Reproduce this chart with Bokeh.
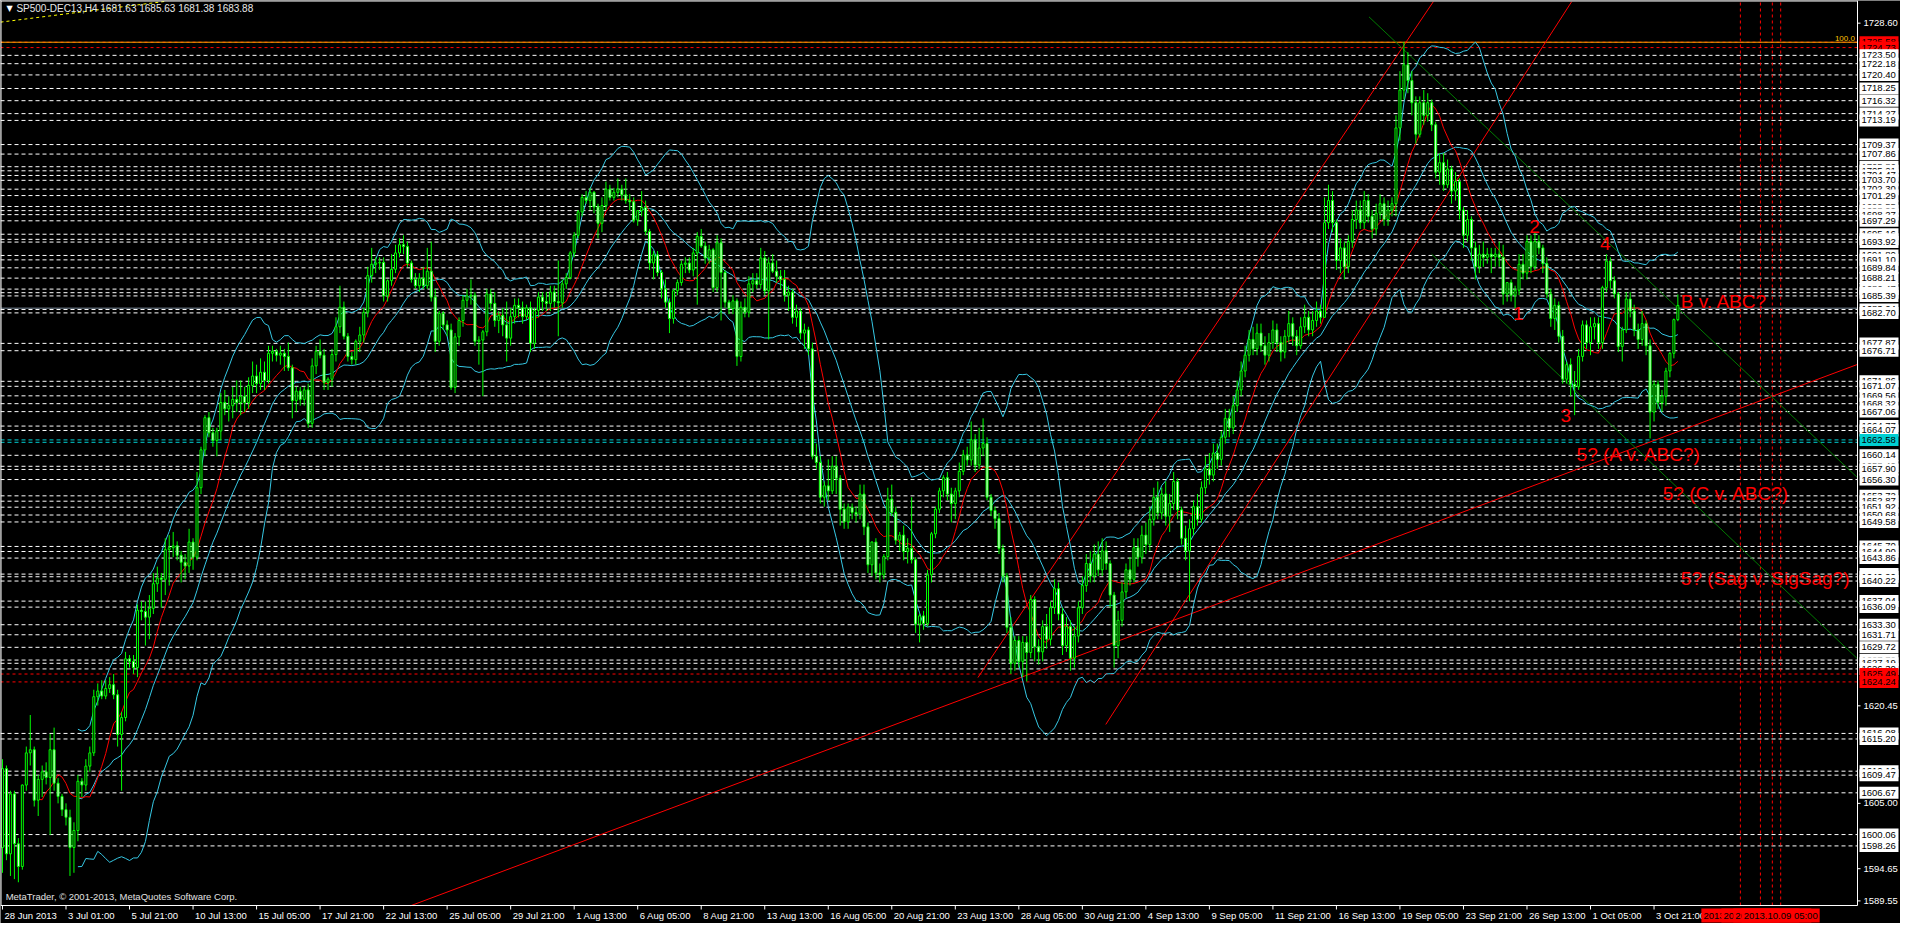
import pandas as pd
from bokeh.plotting import figure
from bokeh.models import Range1d, ColumnDataSource
from bokeh.core.properties import value
from bokeh.embed import file_html
from bokeh.resources import INLINE

# ---------------- data ----------------
FIRST_OPEN = 1598.0
CLOSE = [
 1610.5,1597,1606.5,1598.6,1595,1607.9,1613,1613.5,1605.5,1608.8,1610,1609.1,1613.5,1608.2,1606.1,1604,1602.8,1598,1600.7,1608.5,
 1607.9,1610.9,1613,1621.9,1622.8,1622,1623.2,1623.8,1622.2,1615.9,1618.6,1627.9,1627.5,1626.5,1635.6,1635.4,1634.5,1635.9,1639.8,1640.7,
 1640.5,1645.2,1645.5,1645.8,1644.3,1643.2,1642.6,1646.4,1644,1655,1661,1666.1,1663.7,1662.5,1664,1668.5,1667.5,1668,1669,1668.5,
 1669.5,1668.5,1671.2,1672.7,1671.5,1673.3,1672,1676.3,1676.6,1676,1676.3,1675.8,1674,1668.8,1670.3,1669,1670.5,1665.2,1674.3,1676.6,
 1676,1671.7,1672.2,1676.1,1680.5,1683.6,1679,1675.8,1675.3,1678.2,1679.2,1682.8,1688.6,1690.4,1690.6,1690.7,1685.4,1687.8,1689.6,1692.2,
 1693.5,1693.2,1690.6,1688,1687,1688.2,1687,1689.3,1685.2,1678.2,1682.6,1680.8,1680,1670.9,1678.9,1681.5,1684.7,1685.4,1685.5,1678.2,
 1678.4,1679.7,1685.7,1684.2,1681.5,1682.3,1680.8,1678.7,1682.1,1683.9,1683.5,1682.1,1683.5,1677.9,1683.1,1685.2,1684.5,1684.2,1686,1684.5,
 1684.3,1687.3,1688.3,1692.2,1695,1698.7,1701,1700.5,1701.8,1699.5,1696.9,1699.7,1702.3,1701,1701.8,1702.3,1701.4,1700.5,1700.3,1697.4,
 1698.9,1699.4,1695.6,1690.6,1691.9,1689.1,1686.5,1684.4,1681.8,1686.2,1687.5,1690.4,1690.6,1689.5,1692.2,1694.8,1693.3,1691.4,1692.7,1686.7,
 1693.8,1689.1,1684.4,1683.4,1684.6,1675.8,1683.6,1682.8,1687.3,1687.8,1687.2,1691.4,1686.2,1690.6,1689.3,1688.5,1688,1685.5,1686,1682,
 1683,1679.5,1680,1677,1660,1659,1653.5,1655.3,1654.5,1658.4,1656.5,1651.6,1649.6,1651.9,1651.1,1650.8,1654,1648.8,1642.8,1646.4,
 1641.5,1641.2,1644.1,1653.2,1651.1,1646.7,1647.5,1644.9,1645.4,1643.6,1633.4,1634.7,1633.5,1641.2,1647.7,1651.6,1654.5,1656.6,1654,1652.5,
 1654.5,1657.6,1660.2,1659.4,1662.6,1658.6,1661.3,1662,1653.5,1651.4,1650.1,1645.4,1641,1632.9,1627.2,1630.8,1627.5,1630.5,1628.9,1637.3,
 1629.8,1629,1633,1631,1636,1639,1635,1630,1633,1628,1631.5,1636,1639.5,1643,1641,1644.5,1642,1645,1643,1638,
 1630,1634,1638.5,1642,1640.5,1645.5,1644,1647.5,1646,1650,1653.5,1651,1654,1650.5,1652.5,1656,1651.5,1647,1645,1648.5,
 1652,1650,1655,1658,1657,1660.5,1659.5,1663,1666,1664.5,1668,1670.5,1673.5,1676,1678.5,1677,1679.5,1677.5,1676,1678,
 1680,1678,1676.5,1679,1681,1679,1677.5,1680.5,1682,1680,1681.5,1683,1682,1697,1700.5,1697,1691,1693,1690,1694,
 1697.5,1699,1697,1700.5,1698,1696,1698.5,1700,1697.5,1699,1700,1712,1718,1722,1719.5,1716,1711,1716,1714,1716,
 1712.5,1705,1706.5,1703,1705.5,1702,1703.5,1699,1695,1697.5,1693,1690,1692,1691.5,1692,1691.6,1692,1691.5,1685.7,1687.5,
 1685.5,1686.3,1690.4,1689,1694,1690,1694,1693,1690.5,1685.7,1681.8,1683.9,1679,1672.2,1674.5,1671.4,1671,1675.8,1680.8,1678,
 1680.5,1681,1678,1686.7,1690.9,1687.8,1685.7,1677.4,1680,1684.9,1683,1680,1678.5,1681,1677.5,1667,1671.4,1668.5,1669.5,1673.5,
 1676.3,1681.63,1683.88]
HIGH = [
 1612,1611,1607,1607,1599.5,1608,1614,1619,1614,1609.5,1611,1611.5,1616,1617,1609,1606.5,1605,1604,1602,1609.5,
 1609,1612,1614,1623,1624,1624.5,1624.5,1625,1625.5,1623,1619.5,1629,1628.5,1628.5,1636.5,1637,1637,1638,1641.5,1642.5,
 1641.5,1647,1647.5,1648,1646.5,1645,1644.5,1648.5,1647,1657.5,1661.5,1666.5,1667,1664.5,1664.5,1670,1670.5,1669.5,1671,1672,
 1672,1671,1672.5,1675,1674.5,1675.5,1675,1677.5,1677.5,1677,1677.5,1677,1678,1674.5,1671,1671,1671,1671.5,1675.5,1677.5,
 1678.5,1677,1672.5,1677,1682,1687,1684.5,1679.5,1676.5,1678.5,1680.5,1683.5,1690,1693,1691.5,1691.5,1691.5,1688,1692,1693.5,
 1694.5,1695,1694,1691,1689,1689,1690,1693,1694,1686.5,1683,1683,1681.5,1681,1679.5,1682,1685.5,1686.5,1688,1686,
 1679,1680,1686.5,1686.5,1686,1683,1683.5,1684.5,1683.5,1685,1685,1684.5,1684,1684.5,1683.5,1686,1686,1686,1687,1687,
 1691,1688,1689,1692.5,1695.5,1699,1701.5,1702,1702.5,1702,1700,1701,1703.5,1703,1702.5,1704,1703,1704,1701.5,1701,
 1699,1702,1700.5,1696,1692.5,1692.5,1689.5,1688,1685,1686.5,1688,1691,1691.5,1691.5,1693,1695.5,1696,1694,1693.5,1693,
 1695,1694.5,1689.5,1684.8,1685.5,1685,1684.5,1685,1688.5,1689,1689,1693,1692.5,1691.5,1692,1691,1689.5,1689.5,1687,1686.5,
 1684,1683.5,1681,1680.5,1678,1662,1660,1656,1659.5,1660,1660,1657,1652.5,1652.5,1652.5,1652,1655.5,1655.5,1649.5,1646.5,
 1647,1643,1644.5,1655,1655.5,1652,1648,1649,1647,1653.5,1644,1635,1635.5,1642,1648,1652,1655,1657,1657.5,1655,
 1655,1659,1661,1661.5,1665.5,1663.5,1664.5,1666,1663,1654,1652,1651,1646,1641.5,1634.5,1631.5,1631.5,1631.5,1631.5,1638,
 1637.8,1631,1634,1635,1637,1640.5,1640,1636,1634.5,1634,1633,1637,1641,1644.5,1645,1646,1646.5,1647,1646.5,1643.5,
 1638.5,1635.5,1640,1643,1644,1647,1647,1649,1649.5,1652,1655,1656,1655,1656,1654,1657.5,1656.5,1652,1649,1650,
 1653,1654,1656,1660,1660.5,1662,1662,1664,1667.5,1667.5,1669.5,1672,1675,1677.5,1680,1680.5,1681,1681,1679,1679.5,
 1681.5,1681,1679,1680,1683,1682,1680,1682,1684,1683,1683,1684.5,1684,1701,1703,1702,1697.5,1694.5,1694,1695,
 1699,1700.5,1700.5,1702,1701.5,1699,1700,1701.5,1701,1700.5,1701,1714,1721,1725.6,1724,1721,1717,1717,1718,1717.5,
 1716.5,1713,1708,1708,1707,1706,1705,1704,1699.5,1699,1698,1694,1693.5,1694,1693,1693,1693,1694,1693.5,1687.5,
 1688,1687,1692,1692,1695,1695,1695.5,1695,1693.5,1691.5,1686.5,1685,1684.5,1680,1675,1675.5,1673.5,1677,1681.5,1681.5,
 1682,1682,1682,1687,1692,1691.5,1688.5,1686,1680.5,1686,1686,1684,1681,1683,1681.5,1678.5,1672,1672,1670.5,1674,
 1676.5,1681.8,1685.63]
LOW = [
 1594,1596,1593.5,1593,1592.5,1594.5,1607,1611,1604.5,1603,1606,1608,1600,1607,1605,1603,1601.5,1593.5,1594,1599,
 1606,1607,1610,1612.5,1620.5,1621.5,1621.5,1622.5,1621.5,1614,1607,1618,1626.5,1625.5,1625,1634,1630,1631,1635,1638.5,
 1636,1638,1639.5,1644,1643.5,1640,1640.5,1641.5,1642,1643.5,1654,1660,1663,1661.5,1660,1662.5,1666.5,1665.5,1666,1667,
 1666.5,1667,1667.5,1670,1670,1670.5,1670.5,1671.5,1675,1675,1674.5,1673.5,1673.5,1666,1667,1668,1668,1664.5,1664.5,1673,
 1675.5,1670.5,1670.5,1671,1675,1679.5,1678.5,1675,1674.5,1674.5,1676.5,1678,1682,1687.5,1689,1689.5,1684.5,1684.5,1687,1689,
 1691.5,1692,1690,1687.5,1686.5,1686,1686.5,1686.5,1684.5,1676.5,1677.5,1680,1679,1670.5,1670,1677.5,1680.5,1683.5,1684,1677.5,
 1674.5,1669.5,1679,1683,1680.5,1679.5,1679,1675,1677.5,1681,1682,1681,1681.5,1676.5,1677,1682,1683,1683,1683,1683.5,
 1679,1683.5,1686.5,1688,1691.5,1694.5,1698,1700,1699,1698.5,1694.5,1695.5,1699,1700.5,1700.5,1701,1700.5,1700,1699,1697,
 1696.5,1698,1695,1689.5,1688,1688.5,1685,1683.5,1679.5,1681,1685.5,1687,1689,1689,1688.5,1684,1693,1690.5,1690.5,1686,
 1686,1681.5,1683.5,1682.5,1682.5,1674.3,1675,1682,1682,1686,1686.5,1686.5,1685.5,1678.5,1689,1687.5,1686.5,1684.5,1683,1681,
 1680.5,1678.5,1677,1676,1659.5,1658,1652.5,1652,1653,1654,1654,1649,1648.5,1648.5,1650,1649.5,1650,1647.5,1641.5,1641,
 1640.5,1640,1640.5,1643.5,1650.5,1646,1645,1643.5,1643,1643,1632,1630.5,1632.5,1633,1640,1647,1651,1653.5,1653,1649.5,
 1650,1653.5,1657,1658.5,1658.5,1657.5,1658,1660,1653,1650.5,1648.5,1644.5,1640,1632,1625.5,1626,1626.5,1625,1624.3,1628,
 1627.5,1627,1627.5,1629.5,1630,1635,1634,1628.5,1629,1626,1626.5,1630.5,1635,1638.5,1640,1640,1641,1641,1642,1636,
 1626.5,1628,1633,1637.5,1639.5,1640,1642.5,1643,1644.5,1645,1649,1650,1650,1649,1648,1651.5,1650,1646,1643.5,1637,
 1647.5,1649,1649.5,1654,1655.5,1656,1658,1658.5,1662,1663,1663.5,1667,1669.5,1672.5,1675,1676,1676,1676.5,1674.5,1675,
 1677,1676.5,1675,1675.5,1678,1677.5,1676,1677,1679.5,1679,1679,1680.5,1681,1682.5,1696,1695.5,1689.5,1689,1688,1689,
 1693,1696,1696,1696,1697,1694.5,1695,1697.5,1696.5,1696.5,1698,1698,1710,1716.5,1717.5,1714,1709.5,1710.5,1712.5,1713,
 1711.5,1704,1703,1702,1702.5,1700,1700.5,1697.5,1693,1694,1691,1688,1689,1690,1690.5,1689,1690,1690,1684,1684.5,
 1684.5,1683.5,1685.5,1688,1688,1689,1689.5,1692,1689,1685,1680.5,1680,1678,1671.5,1671.5,1669.5,1666.5,1670.5,1675,1677,
 1676,1678.5,1677,1677,1686,1686.5,1685,1676.5,1675,1679.5,1682,1679,1677,1677.5,1676,1662.8,1665.5,1667.5,1667,1668,
 1672.5,1675.5,1681.38]
OPEN = [FIRST_OPEN] + CLOSE[:-1]

TICK_BARS = [0, 16, 32, 48, 64, 80, 96, 112, 128, 144, 160, 176, 192, 208, 224, 240, 256,
             272, 288, 304, 320, 336, 352, 368, 384, 400, 416]
TIME_LABELS = ["28 Jun 2013", "3 Jul 01:00", "5 Jul 21:00", "10 Jul 13:00", "15 Jul 05:00",
               "17 Jul 21:00", "22 Jul 13:00", "25 Jul 05:00", "29 Jul 21:00", "1 Aug 13:00",
               "6 Aug 05:00", "8 Aug 21:00", "13 Aug 13:00", "16 Aug 05:00", "20 Aug 21:00",
               "23 Aug 13:00", "28 Aug 05:00", "30 Aug 21:00", "4 Sep 13:00", "9 Sep 05:00",
               "11 Sep 21:00", "16 Sep 13:00", "19 Sep 05:00", "23 Sep 21:00", "26 Sep 13:00",
               "1 Oct 05:00", "3 Oct 21:00"]
AXIS_PRICES = [1589.55, 1594.65, 1605.00, 1620.45, 1728.60]

WHITE_LEVELS = [1723.50, 1722.18, 1720.40, 1718.25, 1716.32, 1714.27, 1713.19, 1709.37, 1707.86,
                1705.86, 1705.21, 1704.47, 1703.70, 1702.30, 1701.29, 1699.55, 1698.90, 1698.27,
                1697.29, 1695.16, 1694.35, 1693.92, 1691.80, 1691.10, 1689.84, 1688.21, 1686.47,
                1685.90, 1685.39, 1683.24, 1682.70, 1677.87, 1676.71, 1671.86, 1671.07, 1669.56,
                1668.32, 1667.06, 1664.77, 1664.07, 1660.14, 1658.40, 1657.90, 1656.30, 1653.72,
                1652.87, 1651.92, 1650.68, 1649.58, 1645.70, 1644.90, 1643.86, 1641.32, 1640.90,
                1640.22, 1637.04, 1636.09, 1633.30, 1631.71, 1629.72, 1627.70, 1627.19, 1626.30,
                1616.08, 1615.20, 1610.10, 1609.47, 1606.67, 1600.06, 1598.26]
RED_LEVELS = [1725.58, 1724.73, 1625.49, 1624.24]
CYAN_LEVELS = [1662.58, 1662.20]
CYAN_LABELLED = [1662.58]
BID_PRICE = 1683.45
FIB_100 = 1725.58

# trend lines: (bar0, price0, bar1, price1, colour)
TRENDLINES = [
    (102.75, 1588.77, 467.25, 1674.54, "#FF0000"),
    (245.70, 1624.93, 360.40, 1732.00, "#FF0000"),
    (277.90, 1617.50, 395.25, 1732.00, "#FF0000"),
    (344.20, 1729.60, 467.25, 1656.60, "#007A00"),
    (360.00, 1692.00, 467.25, 1627.90, "#007A00"),
]
FIB_BASE = (-0.5, 1728.76, 40.75, 1732.03)

VLINE_BARS = [437.75, 442.8, 445.8, 447.9]
VLINE_LABELS = ["2013.10.08 05:00", "2013.10.08 21:00", "2013.10.09 01:00", "2013.10.09 05:00"]

WAVE_TEXT = ["1", "2", "3", "4"]
WAVE_BAR = [381.8, 385.9, 393.8, 403.75]
WAVE_PRICE = [1682.6, 1696.4, 1666.4, 1693.7]
NOTE_TEXT = ["B v. ABC?", "5? (A v. ABC?)", "5? (C v. ABC?)", "5? (Sag v. SigSag?)"]
NOTE_BAR = [422.75, 396.5, 418.2, 422.75]
NOTE_PRICE = [1684.5, 1660.3, 1654.1, 1640.6]

TITLE = "SP500-DEC13,H4  1681.63 1685.63 1681.38 1683.88"
COPYRIGHT = "MetaTrader, \u00a9 2001-2013, MetaQuotes Software Corp."

# ---------------- geometry ----------------
FONT = "Liberation Sans"
LIME = "#00FF00"
W, H = 1900, 923          # canvas
DW, DH = 1857, 905        # chart area (rest: price scale on the right, time scale below)
X0, X1 = -0.5, 467.25     # bars shown in the chart area
Y0, Y1 = 1588.82, 1732.19 # prices shown in the chart area
BPP = (X1 - X0) / DW      # bars per pixel
PPP = (Y1 - Y0) / DH      # price per pixel
XR1 = X0 + W * BPP
YR0 = Y0 - (H - DH) * PPP

p = figure(width=W, height=H, x_range=Range1d(X0, XR1), y_range=Range1d(YR0, Y1),
           toolbar_location=None, output_backend="svg",
           x_axis_location=None, y_axis_location=None,
           background_fill_color="black", border_fill_color="black",
           outline_line_color=None,
           min_border_left=0, min_border_top=0, min_border_right=0, min_border_bottom=0)
p.xgrid.grid_line_color = None
p.ygrid.grid_line_color = None

def hsegs(levels, **kw):
    n = len(levels)
    p.segment(x0=[X0] * n, x1=[X1] * n, y0=levels, y1=levels, **kw)

# horizontal levels
hsegs(WHITE_LEVELS, line_color="white", line_width=1, line_dash="4 3")
hsegs(RED_LEVELS, line_color="#FF0000", line_width=1, line_dash="3 3")
hsegs(CYAN_LEVELS, line_color="#00CED1", line_width=1, line_dash="4 3")
hsegs([BID_PRICE], line_color="#8090A0", line_width=1)
hsegs([FIB_100], line_color="#FFA500", line_width=1)

# future vertical lines
nv = len(VLINE_BARS)
p.segment(x0=VLINE_BARS, x1=VLINE_BARS, y0=[Y0] * nv, y1=[Y1] * nv,
          line_color="#FF0000", line_dash="3 3", line_width=1)

# trend lines
for (b0, v0, b1, v1, col) in TRENDLINES:
    p.line([b0, b1], [v0, v1], line_color=col, line_width=1)
p.line([FIB_BASE[0], FIB_BASE[2]], [FIB_BASE[1], FIB_BASE[3]], line_color="#FFFF00",
       line_dash="3 3", line_width=1)

# indicators
s = pd.Series(CLOSE, dtype=float)
mid = s.rolling(20).mean()
sd = s.rolling(20).std(ddof=0)
bars = list(range(len(CLOSE)))
BB = "#36C8E4"
p.line(bars, mid + 2 * sd, line_color=BB, line_width=1)
p.line(bars, mid, line_color=BB, line_width=1)
p.line(bars, mid - 2 * sd, line_color=BB, line_width=1)
p.line(bars, s.rolling(10).mean(), line_color="#FF0000", line_width=1)

# candles
tops = [max(o, c) for o, c in zip(OPEN, CLOSE)]
bots = [min(o, c) for o, c in zip(OPEN, CLOSE)]
fills = ["black" if c >= o else "white" for o, c in zip(OPEN, CLOSE)]
src = ColumnDataSource(dict(x=bars, h=HIGH, l=LOW, top=tops, bottom=bots, fill=fills))
p.segment(x0="x", y0="l", x1="x", y1="h", source=src, line_color=LIME, line_width=1)
p.vbar(x="x", width=0.5, top="top", bottom="bottom", source=src,
       fill_color="fill", line_color=LIME, line_width=1)

# wave annotations
p.text(x=WAVE_BAR, y=WAVE_PRICE, text=WAVE_TEXT, text_color="#FF0000",
       text_font=value(FONT), text_font_size="19px", text_align="center",
       text_baseline="middle")
p.text(x=NOTE_BAR, y=NOTE_PRICE, text=NOTE_TEXT, text_color="#FF0000",
       text_font=value(FONT), text_font_size="19px", text_align="left",
       text_baseline="middle")

# chart title + copyright + fib label
p.text(x=[1.0], y=[1730.85], text=["\u25bc"], text_color="white",
       text_font=value("DejaVu Sans"), text_font_size="8px", text_align="left",
       text_baseline="middle")
p.text(x=[3.5], y=[1730.85], text=[TITLE], text_color="#E8E8E8",
       text_font=value(FONT), text_font_size="10px", text_align="left",
       text_baseline="middle")
p.text(x=[0.8], y=[1590.3], text=[COPYRIGHT], text_color="#E0E0E0",
       text_font=value(FONT), text_font_size="9.5px", text_align="left",
       text_baseline="middle")
p.text(x=[466.6], y=[FIB_100 + 0.25], text=["100.0"], text_color="#FFC000",
       text_font=value(FONT), text_font_size="8px", text_align="right",
       text_baseline="bottom")

# ---- MT4-style chart frame, price scale and time scale ----
# left and top border
p.segment(x0=[X0 + 0.5 * BPP, X0], x1=[X0 + 0.5 * BPP, X1], y0=[Y0, Y1 - 0.5 * PPP],
          y1=[Y1, Y1 - 0.5 * PPP], line_color="white", line_width=1)
# axis lines
p.segment(x0=[X1, X0], x1=[X1, X1], y0=[Y0, Y0], y1=[Y1, Y0], line_color="white", line_width=1)
# time ticks + labels
nt = len(TICK_BARS)
p.segment(x0=TICK_BARS, x1=TICK_BARS, y0=[Y0] * nt, y1=[Y0 - 4 * PPP] * nt,
          line_color="white", line_width=1)
YLAB = Y0 - 10 * PPP
p.text(x=[b + 2 * BPP for b in TICK_BARS], y=[YLAB] * nt, text=TIME_LABELS,
       text_color="white", text_font=value(FONT), text_font_size="9.5px",
       text_align="left", text_baseline="middle")
# price ticks + labels
na = len(AXIS_PRICES)
p.segment(x0=[X1] * na, x1=[X1 + 3 * BPP] * na, y0=AXIS_PRICES, y1=AXIS_PRICES,
          line_color="white", line_width=1)
p.text(x=[X1 + 6 * BPP] * na, y=AXIS_PRICES, text=["%.2f" % v for v in AXIS_PRICES],
       text_color="white", text_font=value(FONT), text_font_size="9.5px",
       text_align="left", text_baseline="middle")

# labels of the future vertical lines (each drawn over the previous)
for vb, t in zip(VLINE_BARS, VLINE_LABELS):
    p.rect(x=[vb], y=[YLAB], width=78, height=14, width_units="screen", height_units="screen",
           fill_color="#FF0000", line_color=None)
    p.text(x=[vb], y=[YLAB], text=[t], text_color="black", text_font=value(FONT),
           text_font_size="9.5px", text_align="center", text_baseline="middle")

# price boxes of the horizontal lines
boxes = [(v, "white") for v in WHITE_LEVELS] + [(v, "#FF0000") for v in RED_LEVELS] + \
        [(v, "#00CED1") for v in CYAN_LABELLED]
boxes.sort(key=lambda t: -t[0])
for v, col in boxes:
    p.rect(x=[X1 + 21.5 * BPP], y=[v], width=39, height=12, width_units="screen",
           height_units="screen", fill_color=col, line_color=None)
    p.text(x=[X1 + 4 * BPP], y=[v], text=["%.2f" % v], text_color="black",
           text_font=value(FONT), text_font_size="9.5px", text_align="left",
           text_baseline="middle")

open("out.html", "w").write(file_html(p, INLINE))
